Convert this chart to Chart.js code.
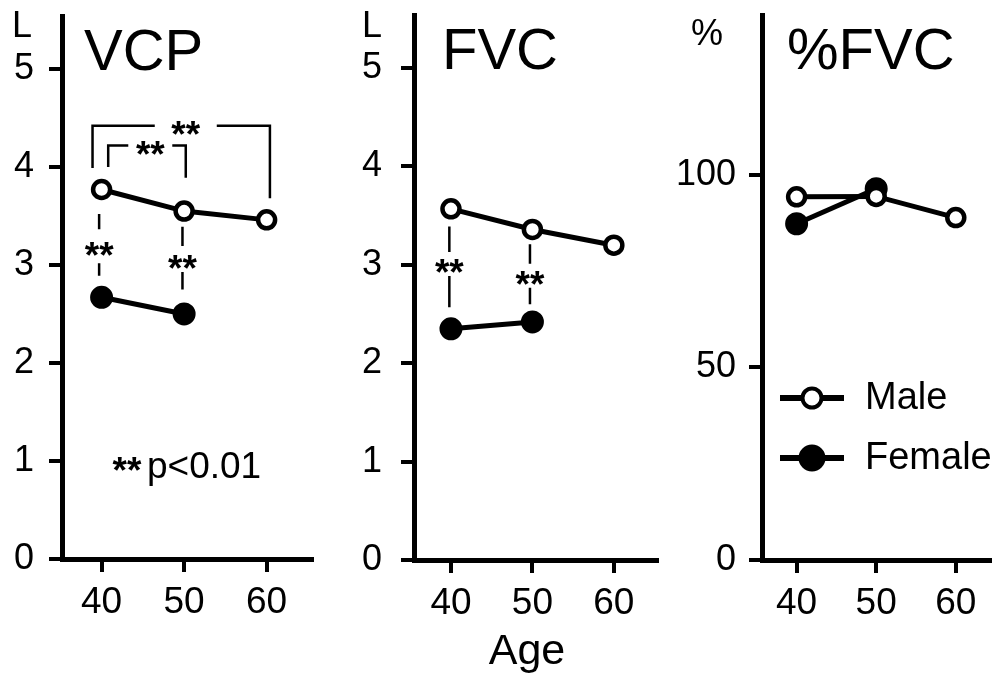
<!DOCTYPE html>
<html><head><meta charset="utf-8">
<script src="https://cdn.jsdelivr.net/npm/chart.js@4.4.0/dist/chart.umd.min.js"></script>
<style>
html,body{margin:0;padding:0;background:#fff;}
#wrap{position:relative;width:1003px;height:677px;overflow:hidden;background:#fff;}
canvas{position:absolute;top:0;}
</style></head><body>
<div id="wrap">
<canvas id="c1" width="330" height="677" style="left:0px"></canvas>
<canvas id="c2" width="340" height="677" style="left:330px"></canvas>
<canvas id="c3" width="333" height="677" style="left:670px"></canvas>
</div>
<script>
// ---- data ----
const ages = [40, 50, 60];
const ageTicks = [40, 50, 60];
const litreTicks = [0, 1, 2, 3, 4, 5];
const pctTicks = [0, 50, 100];
const vcpMale = [3.77, 3.55, 3.46];
const vcpFemale = [2.67, 2.50];
const fvcMale = [3.57, 3.36, 3.20];
const fvcFemale = [2.35, 2.42];
const pctMale = [94.3, 94.4, 88.9];
const pctFemale = [87.3, 96.4];
const seriesNames = ['Male', 'Female'];

// ---- annotations (significance marks, in data units) ----
const vcpBrackets = [
  {from: 38.9, to: 60.4, top: 4.42, leftEnd: 3.99, rightEnd: 3.68, starX: 50.2, gap: 31},
  {from: 40.8, to: 50.2, top: 4.22, leftEnd: 4.00, rightEnd: 3.89, starX: 45.9, gap: 22}
];
const vcpLinks = [
  {x: 39.7, from: 3.52, to: 2.89, star: 3.19, gap: 17},
  {x: 49.8, from: 3.39, to: 2.75, star: 3.06, gap: 13}
];
const fvcLinks = [
  {x: 39.8, from: 3.39, to: 2.57, star: 3.01, gap: 12},
  {x: 49.7, from: 3.21, to: 2.60, star: 2.89, gap: 12}
];

const FONT = '"Liberation Sans", Arial, Helvetica, sans-serif';
Chart.defaults.font.family = FONT;
Chart.defaults.color = '#000';

function drawStars(ctx, x, yc) {
  const s = 37;
  ctx.save();
  ctx.font = 'bold ' + s + 'px ' + FONT;
  ctx.fillStyle = '#000';
  ctx.textAlign = 'center';
  ctx.textBaseline = 'alphabetic';
  ctx.fillText('**', x, yc + 0.58 * s);
  ctx.restore();
}

function annPlugin(brackets, links, texts, legend) {
  return {
    id: 'ann',
    afterDatasetsDraw(chart) {
      const ctx = chart.ctx, xs = chart.scales.x, ys = chart.scales.y;
      ctx.save();
      ctx.strokeStyle = '#000';
      ctx.lineWidth = 2.5;
      ctx.lineCap = 'butt';
      for (const b of brackets) {
        const x1 = xs.getPixelForValue(b.from), x2 = xs.getPixelForValue(b.to);
        const yt = ys.getPixelForValue(b.top), sx = xs.getPixelForValue(b.starX);
        ctx.beginPath();
        ctx.moveTo(x1, ys.getPixelForValue(b.leftEnd));
        ctx.lineTo(x1, yt);
        ctx.lineTo(sx - b.gap, yt);
        ctx.moveTo(sx + b.gap, yt);
        ctx.lineTo(x2, yt);
        ctx.lineTo(x2, ys.getPixelForValue(b.rightEnd));
        ctx.stroke();
        drawStars(ctx, sx, yt);
      }
      for (const l of links) {
        const cx = xs.getPixelForValue(l.x);
        const y1 = ys.getPixelForValue(l.from), y2 = ys.getPixelForValue(l.to), sy = ys.getPixelForValue(l.star);
        ctx.beginPath();
        ctx.moveTo(cx, y1); ctx.lineTo(cx, sy - l.gap);
        ctx.moveTo(cx, sy + l.gap); ctx.lineTo(cx, y2);
        ctx.stroke();
        drawStars(ctx, cx, sy);
      }
      ctx.restore();
    },
    afterDraw(chart) {
      const ctx = chart.ctx;
      ctx.save();
      ctx.fillStyle = '#000';
      for (const t of texts) {
        if (t.stars) { drawStars(ctx, t.x, t.y); continue; }
        ctx.font = t.size + 'px ' + FONT;
        ctx.textAlign = t.align || 'left';
        ctx.textBaseline = t.base || 'alphabetic';
        ctx.fillText(t.text, t.x, t.y);
      }
      if (legend) {
        const ds = chart.data.datasets;
        legend.rows.forEach((r, i) => {
          const d = ds[i];
          ctx.strokeStyle = '#000';
          ctx.lineWidth = 6;
          ctx.beginPath();
          ctx.moveTo(legend.x1, r.y); ctx.lineTo(legend.x2, r.y);
          ctx.stroke();
          ctx.beginPath();
          ctx.arc(legend.mx, r.y, r.r, 0, Math.PI * 2);
          ctx.fillStyle = d.pointBackgroundColor;
          ctx.fill();
          ctx.lineWidth = r.bw;
          ctx.stroke();
          ctx.fillStyle = '#000';
          ctx.font = legend.size + 'px ' + FONT;
          ctx.textAlign = 'left';
          ctx.textBaseline = 'middle';
          ctx.fillText(d.label, legend.tx, r.y + 1);
        });
      }
      ctx.restore();
    }
  };
}

function noPad(s) { s.paddingTop = 0; s.paddingBottom = 0; s.paddingLeft = 0; s.paddingRight = 0; }

function makeChart(id, cfg) {
  const male = cfg.male.map((v, i) => ({x: ages[i], y: v}));
  const female = cfg.female.map((v, i) => ({x: ages[i], y: v}));
  return new Chart(document.getElementById(id), {
    type: 'line',
    data: {datasets: [
      {label: seriesNames[0], data: male, borderColor: '#000', borderWidth: 5, tension: 0, fill: false,
       pointRadius: 8.5, pointBorderWidth: 4.5, pointBackgroundColor: '#fff', pointBorderColor: '#000'},
      {label: seriesNames[1], data: female, borderColor: '#000', borderWidth: 5, tension: 0, fill: false,
       pointRadius: 10.5, pointBorderWidth: 2, pointBackgroundColor: '#000', pointBorderColor: '#000'}
    ]},
    options: {
      responsive: false, animation: false, devicePixelRatio: 1,
      events: [],
      layout: {padding: {top: cfg.top, right: cfg.right, bottom: 0, left: 0}},
      plugins: {legend: {display: false}, tooltip: {enabled: false}},
      scales: {
        x: {
          type: 'linear', position: 'bottom', min: cfg.xmin, max: cfg.xmax,
          afterFit: s => { s.height = cfg.xh; noPad(s); },
          afterBuildTicks: s => { s.ticks = ageTicks.map(v => ({value: v})); },
          border: {color: '#000', width: 5},
          grid: {drawOnChartArea: false, color: '#000', lineWidth: 4, tickLength: 13},
          ticks: {color: '#000', font: {size: 37}, padding: 9, autoSkip: false, maxRotation: 0,
                  callback: v => String(v)}
        },
        y: {
          type: 'linear', position: 'left', min: 0, max: cfg.ymax,
          afterFit: s => { s.width = cfg.yw; noPad(s); },
          afterBuildTicks: s => { s.ticks = cfg.yticks.map(v => ({value: v})); },
          border: {color: '#000', width: 5},
          grid: {drawOnChartArea: false, color: '#000', lineWidth: 4, tickLength: 13},
          ticks: {color: '#000', font: {size: 36}, padding: cfg.ypad, autoSkip: false,
                  callback: v => String(v)}
        }
      }
    },
    plugins: [annPlugin(cfg.brackets || [], cfg.links || [], cfg.texts || [], cfg.legend)]
  });
}

makeChart('c1', {
  male: vcpMale, female: vcpFemale, xmin: 35.2, xmax: 65.5, ymax: 5.54, yticks: litreTicks,
  top: 16, right: 18, xh: 118, yw: 62, ypad: 15,
  brackets: vcpBrackets, links: vcpLinks,
  texts: [
    {text: 'L', x: 12, y: 37, size: 36},
    {text: 'VCP', x: 84, y: 70, size: 58},
    {stars: true, x: 127, y: 462},
    {text: 'p<0.01', x: 147, y: 478, size: 37}
  ]
});

makeChart('c2', {
  male: fvcMale, female: fvcFemale, xmin: 35.46, xmax: 65.3, ymax: 5.54, yticks: litreTicks,
  top: 15, right: 7, xh: 117, yw: 84, ypad: 19,
  links: fvcLinks,
  texts: [
    {text: 'L', x: 32, y: 37, size: 36},
    {text: 'FVC', x: 112, y: 69, size: 58},
    {text: 'Age', x: 197, y: 664, size: 43, align: 'center'}
  ]
});

makeChart('c3', {
  male: pctMale, female: pctFemale, xmin: 35.65, xmax: 64.3, ymax: 141.5, yticks: pctTicks,
  top: 15, right: 0, xh: 117, yw: 92, ypad: 13,
  texts: [
    {text: '%', x: 21, y: 45, size: 36},
    {text: '%FVC', x: 117, y: 69, size: 58}
  ],
  legend: {x1: 110, x2: 174, mx: 142, tx: 195, size: 38,
           rows: [{y: 398, r: 9.5, bw: 4}, {y: 458, r: 12.5, bw: 2}]}
});
</script>
</body></html>
